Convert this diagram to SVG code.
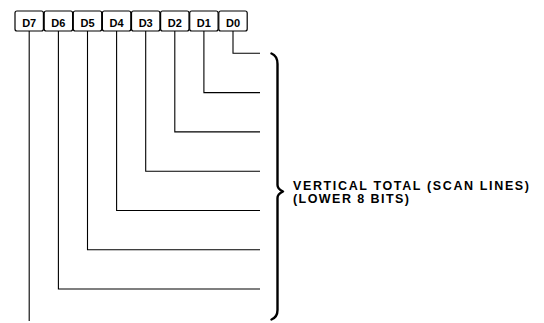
<svg xmlns="http://www.w3.org/2000/svg" width="544" height="323" viewBox="0 0 544 323">
<style>
.box{fill:#fff;stroke:#000;stroke-width:1.2}
.lbl{font-family:"Liberation Sans",Arial,sans-serif;font-weight:bold;font-size:11px;fill:#000;text-anchor:middle}
.wire{fill:none;stroke:#000;stroke-width:1.1}
.brace{fill:none;stroke:#000;stroke-width:2.4;stroke-linejoin:round;stroke-linecap:round}
.note{font-family:"Liberation Sans",Arial,sans-serif;font-weight:bold;font-size:12.5px;fill:#000}
</style>
<rect width="544" height="323" fill="#fff"/>
<g id="connectors">
<path class="wire" d="M29.2 31 V321"/>
<path class="wire" d="M58.4 31 V289 H260"/>
<path class="wire" d="M87.5 31 V249.8 H260"/>
<path class="wire" d="M116.6 31 V210.5 H260"/>
<path class="wire" d="M145.7 31 V171.2 H260"/>
<path class="wire" d="M174.8 31 V131.9 H260"/>
<path class="wire" d="M203.9 31 V92.6 H260"/>
<path class="wire" d="M233 31 V53.3 H260"/>
</g>
<g id="D7"><rect class="box" x="15" y="11" width="28.4" height="20" rx="2"/><text class="lbl" x="29.2" y="27">D7</text></g>
<g id="D6"><rect class="box" x="44.2" y="11" width="28.4" height="20" rx="2"/><text class="lbl" x="58.4" y="27">D6</text></g>
<g id="D5"><rect class="box" x="73.3" y="11" width="28.4" height="20" rx="2"/><text class="lbl" x="87.5" y="27">D5</text></g>
<g id="D4"><rect class="box" x="102.4" y="11" width="28.4" height="20" rx="2"/><text class="lbl" x="116.6" y="27">D4</text></g>
<g id="D3"><rect class="box" x="131.5" y="11" width="28.4" height="20" rx="2"/><text class="lbl" x="145.7" y="27">D3</text></g>
<g id="D2"><rect class="box" x="160.6" y="11" width="28.4" height="20" rx="2"/><text class="lbl" x="174.8" y="27">D2</text></g>
<g id="D1"><rect class="box" x="189.7" y="11" width="28.4" height="20" rx="2"/><text class="lbl" x="203.9" y="27">D1</text></g>
<g id="D0"><rect class="box" x="218.8" y="11" width="28.4" height="20" rx="2"/><text class="lbl" x="233" y="27">D0</text></g>
<g id="brace">
<path class="brace" d="M271.5 53.5 Q277.5 56 277.5 64 V185 Q277.5 189 283 191.5 Q277.5 194 277.5 198 V310 Q277.5 317 271.5 319.5"/>
</g>
<g id="label">
<text class="note" x="293" y="189.5" textLength="236" lengthAdjust="spacing">VERTICAL TOTAL (SCAN LINES)</text>
<text class="note" x="293" y="203" textLength="116" lengthAdjust="spacing">(LOWER 8 BITS)</text>
</g>
</svg>
